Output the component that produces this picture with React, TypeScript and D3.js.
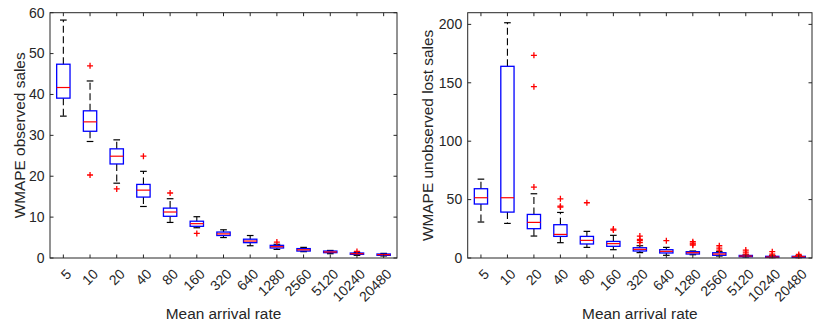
import React from "react";
import * as d3 from "d3";

const categories = ["5", "10", "20", "40", "80", "160", "320", "640", "1280", "2560", "5120", "10240", "20480"];

const leftHi = [58.2, 43.3, 28.9, 21.2, 14.5, 10.1, 6.9, 5.5, 3.35, 2.6, 1.85, 1.38, 1.13];
const leftQ3 = [47.4, 36.0, 26.7, 18.0, 12.2, 9.0, 6.35, 4.6, 3.1, 2.3, 1.7, 1.22, 0.98];
const leftMed = [41.7, 33.3, 24.9, 16.6, 11.25, 8.4, 5.9, 4.15, 2.77, 2.0, 1.47, 1.05, 0.82];
const leftQ1 = [39.1, 31.0, 23.0, 14.9, 10.2, 7.75, 5.5, 3.75, 2.45, 1.7, 1.3, 0.9, 0.65];
const leftLo = [34.7, 28.5, 18.3, 12.6, 8.7, 7.4, 5.0, 3.0, 2.1, 1.55, 1.05, 0.65, 0.5];
const leftOut = [[], [47.0, 20.3], [16.9], [24.9], [15.9], [6.0], [], [], [3.9], [], [], [1.6], []];
const leftTicks = [0, 10, 20, 30, 40, 50, 60];

const rightHi = [67.5, 201.4, 55, 39, 22.8, 19.4, 10.5, 9.1, 6.0, 5.4, 2.6, 2.0, 2.0];
const rightQ3 = [59.3, 164.1, 37.3, 28.5, 18.5, 14.2, 8.8, 7.1, 5.4, 4.5, 2.2, 1.45, 1.45];
const rightMed = [51.6, 51.6, 30.5, 20.2, 15.1, 12.3, 7.4, 5.7, 4.5, 3.4, 1.7, 0.85, 1.1];
const rightQ1 = [46.2, 39.3, 25.1, 18.5, 12.0, 10.0, 6.0, 4.3, 3.4, 2.3, 1.1, 0.6, 0.6];
const rightLo = [30.8, 29.6, 18.8, 13.1, 9.1, 7.1, 4.6, 2.3, 2.8, 1.7, 0.85, 0.3, 0.3];
const rightOut = [[], [], [173.5, 146.7, 60.7], [50.7, 44.4, 43.6], [47.3], [24.8, 23.9], [18.8, 16.0, 14.8, 13.1], [14.8], [14.0, 12.8, 11.8, 11.0], [10.5, 8.5, 6.8], [6.8, 5.1, 3.4], [5.4, 3.4, 2.3], [3.1, 2.0]];
const rightTicks = [0, 50, 100, 150, 200];

const AXIS = "#262626";
const FONT = "'Liberation Sans', Arial, Helvetica, sans-serif";

type PanelProps = {
  x0: number; x1: number; y0: number; y1: number;
  ymax: number; ticks: number[];
  hi: number[]; q3: number[]; med: number[]; q1: number[]; lo: number[]; out: number[][];
  ylabel: string; ylabelX: number;
};

function Panel(p: PanelProps) {
  const x = d3.scaleBand<string>().domain(categories).range([p.x0, p.x1]).padding(0);
  const y = d3.scaleLinear().domain([0, p.ymax]).range([p.y1, p.y0]);
  const bw = x.bandwidth() * 0.5;
  const cw = bw * 0.5;
  const tl = 3.5;
  return (
    <g>
      {/* boxes */}
      {categories.map((c, i) => {
        const cx = x(c)! + x.bandwidth() / 2;
        return (
          <g key={c}>
            <line x1={cx} x2={cx} y1={y(p.q3[i])} y2={y(p.hi[i])} stroke="#000" strokeWidth={1.1} strokeDasharray="7,3.5" />
            <line x1={cx} x2={cx} y1={y(p.q1[i])} y2={y(p.lo[i])} stroke="#000" strokeWidth={1.1} strokeDasharray="7,3.5" />
            <line x1={cx - cw / 2} x2={cx + cw / 2} y1={y(p.hi[i])} y2={y(p.hi[i])} stroke="#000" strokeWidth={1.2} />
            <line x1={cx - cw / 2} x2={cx + cw / 2} y1={y(p.lo[i])} y2={y(p.lo[i])} stroke="#000" strokeWidth={1.2} />
            <rect x={cx - bw / 2} y={y(p.q3[i])} width={bw} height={y(p.q1[i]) - y(p.q3[i])} fill="none" stroke="#0000ff" strokeWidth={1.3} />
            <line x1={cx - bw / 2} x2={cx + bw / 2} y1={y(p.med[i])} y2={y(p.med[i])} stroke="#ff0000" strokeWidth={1.2} />
            {p.out[i].map((v, j) => (
              <path key={j} d={`M${cx - 3},${y(v)}H${cx + 3}M${cx},${y(v) - 3}V${y(v) + 3}`} stroke="#ff0000" strokeWidth={1.3} fill="none" />
            ))}
          </g>
        );
      })}
      {/* frame */}
      <rect x={p.x0} y={p.y0} width={p.x1 - p.x0} height={p.y1 - p.y0} fill="none" stroke={AXIS} strokeWidth={1} />
      {/* x ticks */}
      {categories.map((c) => {
        const cx = x(c)! + x.bandwidth() / 2;
        return (
          <g key={"t" + c}>
            <line x1={cx} x2={cx} y1={p.y1} y2={p.y1 - tl} stroke={AXIS} />
            <line x1={cx} x2={cx} y1={p.y0} y2={p.y0 + tl} stroke={AXIS} />
            <text transform={`translate(${cx + 5.5},${p.y1 + 13.5}) rotate(-45)`} textAnchor="end" dy="0.35em" fontSize={14} fill={AXIS} fontFamily={FONT}>{c}</text>
          </g>
        );
      })}
      {/* y ticks */}
      {p.ticks.map((t) => (
        <g key={"y" + t}>
          <line x1={p.x0} x2={p.x0 + tl} y1={y(t)} y2={y(t)} stroke={AXIS} />
          <line x1={p.x1} x2={p.x1 - tl} y1={y(t)} y2={y(t)} stroke={AXIS} />
          <text x={p.x0 - 5.5} y={y(t)} dy="0.35em" textAnchor="end" fontSize={14} fill={AXIS} fontFamily={FONT}>{t}</text>
        </g>
      ))}
      <text x={(p.x0 + p.x1) / 2} y={319} textAnchor="middle" fontSize={15.4} fill={AXIS} fontFamily={FONT}>Mean arrival rate</text>
      <text transform={`translate(${p.ylabelX},${(p.y0 + p.y1) / 2}) rotate(-90)`} textAnchor="middle" fontSize={15.4} fill={AXIS} fontFamily={FONT}>{p.ylabel}</text>
    </g>
  );
}

export default function App() {
  return (
    <svg width={813} height={327} style={{ position: "absolute", left: 0, top: 0, background: "#fff" }}>
      <Panel x0={50} x1={397} y0={12.7} y1={258} ymax={60} ticks={leftTicks}
        hi={leftHi} q3={leftQ3} med={leftMed} q1={leftQ1} lo={leftLo} out={leftOut}
        ylabel="WMAPE observed sales" ylabelX={25} />
      <Panel x0={467.7} x1={812} y0={12.7} y1={258} ymax={210} ticks={rightTicks}
        hi={rightHi} q3={rightQ3} med={rightMed} q1={rightQ1} lo={rightLo} out={rightOut}
        ylabel="WMAPE unobserved lost sales" ylabelX={433} />
    </svg>
  );
}
